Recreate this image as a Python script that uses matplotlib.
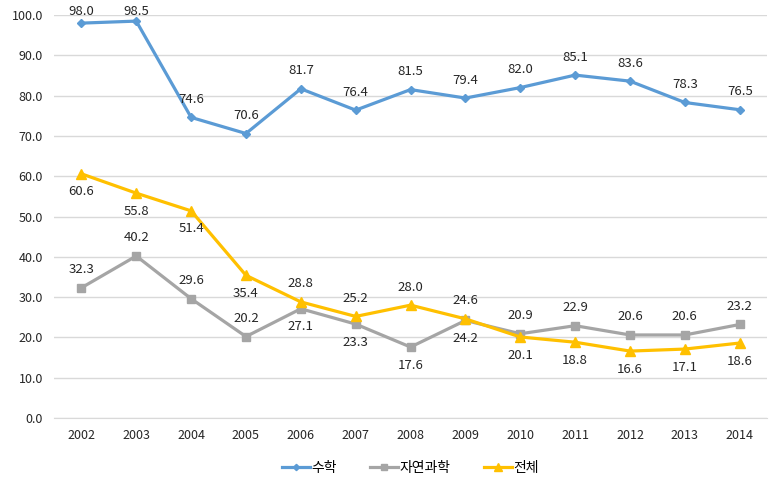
import numpy as np
import matplotlib
matplotlib.use("Agg")
import matplotlib.pyplot as plt

plt.rcParams['font.family'] = ['Noto Sans CJK KR', 'DejaVu Sans']

years = ["2002", "2003", "2004", "2005", "2006", "2007", "2008",
         "2009", "2010", "2011", "2012", "2013", "2014"]
math = [98.0, 98.5, 74.6, 70.6, 81.7, 76.4, 81.5, 79.4, 82.0, 85.1, 83.6, 78.3, 76.5]
science = [32.3, 40.2, 29.6, 20.2, 27.1, 23.3, 17.6, 24.2, 20.9, 22.9, 20.6, 20.6, 23.2]
total = [60.6, 55.8, 51.4, 35.4, 28.8, 25.2, 28.0, 24.6, 20.1, 18.8, 16.6, 17.1, 18.6]

# label side: 1 above, -1 below
math_side = [1] * 13
science_side = [1, 1, 1, 1, -1, -1, -1, -1, 1, 1, 1, 1, 1]
total_side = [-1, -1, -1, -1, 1, 1, 1, 1, -1, -1, -1, -1, -1]

fig = plt.figure(figsize=(7.82, 4.86), dpi=100)
ax = fig.add_axes([0.069, 0.140, 0.912, 0.829])

x = np.arange(len(years))
series = [
    ("수학", math, math_side, "#5B9BD5", "D", 4),
    ("자연과학", science, science_side, "#A5A5A5", "s", 6),
    ("전체", total, total_side, "#FFC000", "^", 7),
]
for name, vals, side, col, mk, ms in series:
    ax.plot(x, vals, color=col, lw=2.3, marker=mk, markersize=ms, label=name,
            solid_joinstyle="round", zorder=3)
    for xi, v, s in zip(x, vals, side):
        off = 13 * s
        if s > 0:
            # keep labels inside the plot area like Excel does
            off = min(13, (101 - v) * 4.03 * 0.72)
        ax.annotate(f"{v:.1f}", (xi, v), xytext=(0, off), textcoords="offset points",
                    ha="center", va="center", fontsize=9.5, color="#262626")

ax.set_xlim(-0.5, len(years) - 0.5)
ax.set_ylim(0, 100)
ax.set_yticks(np.arange(0, 101, 10))
ax.set_yticklabels([f"{v:.1f}" for v in np.arange(0, 101, 10)])
ax.set_xticks(x)
ax.set_xticklabels(years)
ax.tick_params(length=0, labelsize=9, colors="#262626")
ax.tick_params(axis="y", pad=8)
ax.tick_params(axis="x", pad=8)
ax.grid(axis="y", color="#D9D9D9", lw=1)
ax.set_axisbelow(True)
for sp in ["top", "right", "left"]:
    ax.spines[sp].set_visible(False)
ax.spines["bottom"].set_color("#D9D9D9")

ax.legend(loc="center", bbox_to_anchor=(0.5, -0.124), ncol=3, frameon=False,
          fontsize=10, handlelength=2, columnspacing=2.4, handletextpad=0.1,
          markerscale=0.8)

fig.savefig("out.png", dpi=100)
